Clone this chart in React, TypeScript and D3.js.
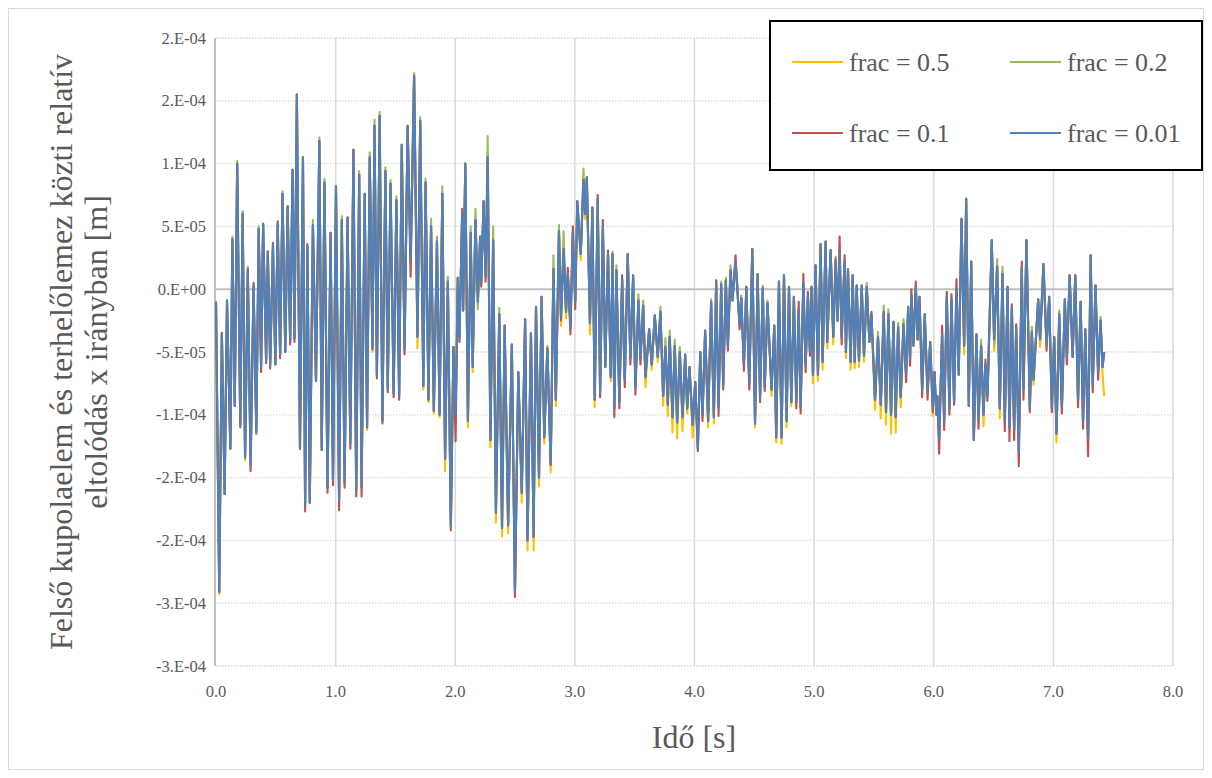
import React from 'react';
import * as d3 from 'd3';

// Displacement values below are stored in units of 1e-4 m.
const UNIT = 1e-4;

const X_TICKS = [0, 1, 2, 3, 4, 5, 6, 7, 8];
const X_TICK_LABELS = ['0.0', '1.0', '2.0', '3.0', '4.0', '5.0', '6.0', '7.0', '8.0'];
const Y_TICKS = [-3e-4, -2.5e-4, -2e-4, -1.5e-4, -1e-4, -5e-5, 0, 5e-5, 1e-4, 1.5e-4, 2e-4];
const Y_TICK_LABELS = ['-3.E-04', '-3.E-04', '-2.E-04', '-2.E-04', '-1.E-04', '-5.E-05', '0.E+00', '5.E-05', '1.E-04', '2.E-04', '2.E-04'];

// frac = 0.01 : [time s, displacement (1e-4 m)]
const FRAC_001: [number, number][] = [
  [0.000, -0.10], [0.027, -2.41], [0.049, -0.35], [0.072, -1.63], [0.092, -0.09], [0.120, -1.27], [0.137, 0.40], [0.157, -0.93],
  [0.177, 1.00], [0.203, -1.08], [0.223, 0.60], [0.243, -1.34], [0.266, 0.16], [0.289, -1.40], [0.314, 0.03], [0.337, -1.13],
  [0.357, 0.48], [0.377, -0.62], [0.394, 0.52], [0.419, -0.57], [0.433, 0.30], [0.453, -0.60], [0.476, 0.35], [0.496, -0.60],
  [0.516, 0.52], [0.536, -0.52], [0.556, 0.76], [0.579, -0.50], [0.599, 0.66], [0.620, -0.42], [0.640, 0.95], [0.656, -0.39],
  [0.676, 1.55], [0.702, -1.27], [0.727, 1.05], [0.745, -1.72], [0.764, 0.34], [0.784, -1.70], [0.810, 0.51], [0.836, -0.73],
  [0.864, 1.18], [0.884, -1.28], [0.907, 0.85], [0.932, -1.58], [0.958, 0.45], [0.978, -1.52], [1.003, 0.82], [1.029, -1.68],
  [1.052, 0.55], [1.075, -1.53], [1.100, 0.57], [1.123, -1.23], [1.149, 1.11], [1.172, -1.61], [1.197, 0.91], [1.217, -1.58],
  [1.243, 0.76], [1.263, -1.10], [1.285, 1.05], [1.308, -0.46], [1.325, 1.30], [1.345, -0.69], [1.368, 1.38], [1.391, -1.05],
  [1.416, 0.94], [1.436, -0.80], [1.459, 0.84], [1.485, -0.83], [1.508, 0.71], [1.531, -0.85], [1.553, 1.15], [1.576, -0.48],
  [1.602, 1.30], [1.627, 0.23], [1.656, 1.70], [1.684, -0.38], [1.707, 1.34], [1.733, -0.77], [1.752, 0.85], [1.776, -0.88],
  [1.798, 0.50], [1.821, -0.97], [1.847, 0.38], [1.869, -1.00], [1.892, 0.76], [1.915, -1.35], [1.938, 0.06], [1.963, -1.88],
  [1.985, -0.46], [2.003, -1.00], [2.021, 0.09], [2.035, -0.39], [2.058, 0.60], [2.066, -0.17], [2.084, 1.00], [2.106, -1.05],
  [2.129, 0.45], [2.146, -0.62], [2.169, 0.55], [2.189, -0.10], [2.208, 0.42], [2.217, 0.05], [2.237, 0.70], [2.254, 0.10],
  [2.271, 1.05], [2.294, -1.20], [2.317, 0.39], [2.340, -1.78], [2.368, -0.20], [2.391, -1.90], [2.413, -0.29], [2.442, -1.88],
  [2.473, -0.44], [2.499, -2.40], [2.527, -0.66], [2.556, -1.62], [2.584, -0.24], [2.604, -2.00], [2.633, -0.35], [2.655, -1.97],
  [2.675, -0.14], [2.700, -1.50], [2.722, -0.06], [2.744, -1.18], [2.770, -0.47], [2.798, -1.40], [2.821, 0.16], [2.841, -0.88],
  [2.867, 0.46], [2.884, -0.22], [2.906, 0.32], [2.926, -0.18], [2.941, 0.12], [2.963, -0.30], [2.983, 0.45], [3.003, -0.10],
  [3.020, 0.70], [3.049, 0.28], [3.072, 0.87], [3.086, 0.60], [3.100, 0.89], [3.126, -0.27], [3.146, 0.65], [3.166, -0.88],
  [3.191, 0.72], [3.211, -0.82], [3.234, 0.50], [3.254, -0.62], [3.277, 0.28], [3.300, -0.70], [3.315, 0.28], [3.330, -0.95],
  [3.347, 0.15], [3.372, -0.90], [3.395, 0.08], [3.417, -0.72], [3.442, 0.28], [3.464, -0.55], [3.487, 0.11], [3.506, -0.78],
  [3.531, -0.09], [3.548, -0.55], [3.571, -0.13], [3.590, -0.70], [3.621, -0.32], [3.643, -0.60], [3.668, -0.21], [3.693, -0.54],
  [3.715, -0.18], [3.738, -0.85], [3.757, -0.46], [3.777, -0.92], [3.793, -0.38], [3.816, -1.02], [3.835, -0.45], [3.855, -1.06],
  [3.877, -0.50], [3.900, -1.02], [3.922, -0.52], [3.939, -0.95], [3.958, -0.62], [3.985, -1.08], [4.006, -0.74], [4.028, -1.27],
  [4.048, -0.50], [4.067, -1.00], [4.089, -0.33], [4.114, -1.05], [4.139, -0.10], [4.162, -1.02], [4.181, 0.05], [4.201, -0.94],
  [4.223, 0.04], [4.240, -0.76], [4.262, 0.07], [4.279, -0.45], [4.301, 0.15], [4.318, -0.09], [4.343, 0.22], [4.377, -0.28],
  [4.391, -0.07], [4.413, -0.60], [4.433, 0.02], [4.458, -0.76], [4.483, 0.32], [4.506, -1.07], [4.528, 0.12], [4.548, -0.86],
  [4.571, 0.01], [4.587, -0.78], [4.610, -0.11], [4.644, -0.80], [4.667, -0.29], [4.683, -1.18], [4.706, 0.06], [4.728, -1.18],
  [4.748, 0.11], [4.770, -1.05], [4.790, 0.02], [4.809, -0.90], [4.831, -0.06], [4.851, -0.90], [4.871, -0.16], [4.887, -0.94],
  [4.910, 0.05], [4.929, -0.60], [4.948, -0.05], [4.965, -0.50], [4.978, 0.02], [4.990, -0.68], [5.012, 0.19], [5.032, -0.68],
  [5.054, 0.36], [5.071, -0.58], [5.096, 0.38], [5.110, -0.42], [5.138, 0.31], [5.160, -0.38], [5.180, 0.22], [5.196, -0.25],
  [5.213, 0.30], [5.230, -0.38], [5.255, 0.22], [5.266, -0.50], [5.283, 0.16], [5.305, -0.58], [5.322, 0.11], [5.339, -0.58],
  [5.356, 0.03], [5.375, -0.57], [5.398, 0.03], [5.417, -0.53], [5.440, 0.02], [5.462, -0.42], [5.479, -0.20], [5.509, -0.88],
  [5.534, -0.38], [5.557, -0.92], [5.582, -0.18], [5.601, -0.98], [5.621, -0.20], [5.643, -1.00], [5.663, -0.26], [5.682, -1.02],
  [5.702, -0.30], [5.724, -0.86], [5.747, -0.28], [5.769, -0.68], [5.786, -0.14], [5.802, -0.56], [5.813, -0.05], [5.830, -0.45],
  [5.850, 0.02], [5.866, -0.40], [5.881, -0.06], [5.903, -0.80], [5.925, -0.20], [5.948, -0.82], [5.970, -0.42], [5.992, -0.93],
  [6.006, -0.66], [6.022, -1.00], [6.030, -0.85], [6.045, -1.20], [6.070, -0.36], [6.087, -1.05], [6.109, -0.06], [6.131, -0.95],
  [6.148, -0.08], [6.170, -0.90], [6.190, 0.00], [6.209, -0.68], [6.232, 0.56], [6.254, -0.45], [6.271, 0.72], [6.293, -0.93],
  [6.313, 0.22], [6.335, -1.20], [6.357, -0.36], [6.374, -1.05], [6.396, -0.45], [6.416, -1.00], [6.432, -0.60], [6.449, -0.85],
  [6.485, 0.39], [6.505, -0.40], [6.530, 0.18], [6.552, -0.95], [6.575, 0.12], [6.594, -1.05], [6.617, 0.02], [6.633, -1.10],
  [6.653, -0.14], [6.672, -1.12], [6.689, -0.30], [6.711, -1.30], [6.736, 0.18], [6.750, -0.80], [6.775, 0.39], [6.803, -0.95],
  [6.820, -0.34], [6.834, -0.72], [6.873, -0.08], [6.889, -0.40], [6.917, 0.20], [6.943, -0.44], [6.965, -0.06], [6.987, -0.95],
  [7.007, -0.38], [7.026, -1.15], [7.049, -0.20], [7.071, -0.94], [7.096, -0.08], [7.113, -0.55], [7.136, 0.11], [7.161, -0.54],
  [7.183, 0.11], [7.206, -0.88], [7.228, -0.10], [7.248, -1.05], [7.267, -0.32], [7.290, -1.20], [7.312, 0.27], [7.329, -0.76],
  [7.352, 0.03], [7.374, -0.66], [7.394, -0.25], [7.411, -0.62], [7.425, -0.50],
];

// Where the coarser runs leave the frac = 0.01 curve: [time s, displacement (1e-4 m)]
const FRAC_05_TIPS: [number, number][] = [
  [0.027, -2.43], [0.243, -1.36], [1.075, -1.56], [1.263, -1.12], [1.308, -0.50], [1.684, -0.47], [1.733, -0.80], [1.776, -0.90],
  [1.821, -0.99], [1.869, -1.02], [1.915, -1.45], [2.106, -1.10], [2.146, -0.66], [2.294, -1.26], [2.340, -1.86], [2.391, -1.97],
  [2.442, -1.94], [2.556, -1.70], [2.604, -2.08], [2.655, -2.08], [2.700, -1.57], [2.744, -1.23], [2.798, -1.46], [2.841, -0.93],
  [2.884, -0.29], [2.926, -0.23], [3.049, 0.23], [3.086, 0.56], [3.126, -0.36], [3.166, -0.94], [3.300, -0.73], [3.590, -0.78],
  [3.643, -0.64], [3.693, -0.58], [3.738, -0.93], [3.777, -1.01], [3.816, -1.14], [3.855, -1.19], [3.900, -1.13], [3.939, -0.99],
  [3.985, -1.18], [4.114, -1.10], [4.162, -1.07], [4.506, -1.10], [4.644, -0.85], [4.683, -1.22], [4.728, -1.23], [4.770, -1.10],
  [4.809, -0.93], [4.990, -0.75], [5.032, -0.73], [5.071, -0.64], [5.110, -0.47], [5.160, -0.44], [5.266, -0.55], [5.305, -0.64],
  [5.339, -0.63], [5.375, -0.62], [5.417, -0.58], [5.509, -0.96], [5.557, -1.03], [5.601, -1.08], [5.643, -1.15], [5.682, -1.14],
  [5.724, -0.94], [5.992, -1.01], [6.254, -0.52], [6.416, -1.09], [6.505, -0.49], [6.552, -1.03], [6.834, -0.76], [6.889, -0.46],
  [7.026, -1.22], [7.411, -0.68], [7.425, -0.85],
];

const FRAC_02_TIPS: [number, number][] = [
  [0.137, 0.42], [0.177, 1.02], [0.223, 0.62], [0.266, 0.18], [0.357, 0.50], [0.556, 0.78], [0.810, 0.55], [0.864, 1.21],
  [0.907, 0.88], [1.052, 0.58], [1.197, 0.94], [1.285, 1.09], [1.325, 1.35], [1.368, 1.41], [1.416, 0.97], [1.459, 0.87],
  [1.508, 0.74], [1.656, 1.72], [1.707, 1.37], [1.752, 0.88], [1.798, 0.56], [1.847, 0.42], [1.892, 0.82], [1.938, 0.10],
  [2.129, 0.50], [2.169, 0.64], [2.189, -0.16], [2.271, 1.22], [2.317, 0.50], [2.368, -0.15], [2.770, -0.45], [2.821, 0.27],
  [2.867, 0.51], [2.906, 0.46], [3.072, 0.96], [3.315, 0.30], [3.347, 0.19], [3.531, -0.04], [3.571, -0.09], [3.715, -0.14],
  [3.757, -0.39], [3.793, -0.33], [3.835, -0.40], [3.877, -0.46], [4.139, -0.08], [4.181, 0.07], [4.223, 0.06], [4.262, 0.09],
  [4.301, 0.19], [4.391, -0.05], [4.571, 0.03], [4.610, -0.09], [5.180, 0.26], [5.440, 0.05], [5.534, -0.34], [5.582, -0.13],
  [5.621, -0.16], [5.702, -0.27], [5.747, -0.24], [6.396, -0.40], [6.505, -0.45], [6.530, 0.24], [6.575, 0.18], [6.820, -0.30],
  [7.049, -0.17], [7.394, -0.22],
];

const FRAC_01_TIPS: [number, number][] = [
  [0.203, -1.10], [0.289, -1.45], [0.314, 0.05], [0.337, -1.15], [0.377, -0.66], [0.419, -0.59], [0.453, -0.63], [0.476, 0.37],
  [0.516, 0.54], [0.536, -0.55], [0.620, -0.44], [0.656, -0.42], [0.745, -1.77], [0.764, 0.36], [0.932, -1.62], [0.978, -1.56],
  [1.029, -1.76], [1.075, -1.58], [1.123, -1.27], [1.172, -1.65], [1.217, -1.65], [1.308, -0.48], [1.345, -0.71], [1.391, -1.07],
  [1.436, -0.82], [1.485, -0.86], [1.531, -0.88], [1.576, -0.52], [1.627, 0.10], [1.963, -1.92], [2.003, -1.21], [2.035, -0.42],
  [2.058, 0.64], [2.217, 0.02], [2.254, 0.06], [2.499, -2.45], [2.884, -0.25], [2.941, 0.17], [2.963, -0.36], [2.983, 0.50],
  [3.003, -0.16], [3.191, 0.75], [3.211, -0.86], [3.234, 0.55], [3.277, 0.31], [3.330, -1.02], [3.372, -0.95], [3.395, 0.11],
  [3.417, -0.78], [3.464, -0.60], [3.506, -0.84], [3.548, -0.60], [4.028, -1.29], [4.067, -1.05], [4.181, 0.07], [4.201, -1.01],
  [4.240, -0.80], [4.279, -0.49], [4.343, 0.27], [4.377, -0.32], [4.413, -0.65], [4.458, -0.80], [4.548, -0.90], [4.587, -0.81],
  [4.851, -0.95], [4.871, -0.10], [4.887, -0.99], [4.910, 0.12], [4.929, -0.66], [4.948, -0.02], [4.965, -0.53], [5.180, 0.24],
  [5.213, 0.42], [5.230, -0.44], [5.255, 0.27], [5.479, -0.18], [5.769, -0.74], [5.802, -0.61], [5.813, 0.00], [5.850, 0.06],
  [5.903, -0.86], [5.948, -0.88], [5.992, -0.98], [6.045, -1.31], [6.070, -0.29], [6.087, -1.12], [6.109, -0.02], [6.131, -1.00],
  [6.148, -0.04], [6.170, -0.92], [6.190, 0.08], [6.374, -1.11], [6.432, -0.56], [6.449, -0.89], [6.594, -1.13], [6.633, -1.21],
  [6.653, -0.12], [6.672, -1.20], [6.689, -0.28], [6.711, -1.41], [6.736, 0.22], [6.750, -0.88], [6.803, -0.98], [6.943, -0.49],
  [6.987, -0.98], [7.071, -0.99], [7.113, -0.60], [7.206, -0.94], [7.248, -1.11], [7.290, -1.33], [7.329, -0.82], [7.374, -0.72],
];

const SERIES_NAMES = ['frac = 0.5', 'frac = 0.2', 'frac = 0.1', 'frac = 0.01'];
const SERIES_COLORS = ['#FFC000', '#9BBB59', '#C0504D', '#4F81BD'];

function applyTips(base: [number, number][], tips: [number, number][]): [number, number][] {
  const byTime = new Map(tips.map(([t, v]) => [t.toFixed(3), v]));
  return base.map(([t, v]) => [t, byTime.has(t.toFixed(3)) ? (byTime.get(t.toFixed(3)) as number) : v]);
}

const FONT = '"Liberation Serif", "DejaVu Serif", serif';
const TEXT = '#595959';
const textStyle = { fontFamily: FONT };

export default function App() {
  const W = 1212;
  const H = 778;
  const plot = { left: 216, right: 1173, top: 38, bottom: 666 };

  const x = d3.scaleLinear().domain([0, 8]).range([plot.left, plot.right]);
  const y = d3.scaleLinear().domain([-3e-4, 2e-4]).range([plot.bottom, plot.top]);

  const line = d3
    .line<[number, number]>()
    .x((d) => x(d[0]))
    .y((d) => y(d[1] * UNIT));

  const series = [
    applyTips(FRAC_001, FRAC_05_TIPS),
    applyTips(FRAC_001, FRAC_02_TIPS),
    applyTips(FRAC_001, FRAC_01_TIPS),
    FRAC_001,
  ];

  const legendItems = [
    { i: 0, lx: 792, ty: 62 },
    { i: 1, lx: 1010, ty: 62 },
    { i: 2, lx: 792, ty: 133 },
    { i: 3, lx: 1010, ty: 133 },
  ];

  return (
    <svg width={W} height={H} style={{ position: 'absolute', left: 0, top: 0, background: '#fff' }}>
      <rect x={0} y={0} width={W} height={H} fill="#fff" />
      <rect x={8.5} y={8.5} width={1195} height={761} fill="#fff" stroke="#D9D9D9" strokeWidth={1} />

      {/* horizontal gridlines */}
      {Y_TICKS.filter((v) => Math.abs(v) > 1e-12).map((v, k) => (
        <line
          key={'hg' + k}
          x1={plot.left}
          x2={plot.right}
          y1={y(v)}
          y2={y(v)}
          stroke="#D9D9D9"
          strokeWidth={1.3}
          strokeDasharray="1.5 1.5"
        />
      ))}
      {/* vertical gridlines */}
      {X_TICKS.filter((v) => v > 0).map((v) => (
        <line key={'vg' + v} x1={x(v)} x2={x(v)} y1={plot.top} y2={plot.bottom} stroke="#D9D9D9" strokeWidth={1.5} />
      ))}
      {/* axis lines */}
      <line x1={plot.left} x2={plot.right} y1={y(0)} y2={y(0)} stroke="#BFBFBF" strokeWidth={2} />
      <line x1={plot.left - 1} x2={plot.left - 1} y1={plot.top} y2={plot.bottom} stroke="#BFBFBF" strokeWidth={2} />

      {/* series */}
      {series.map((d, i) => (
        <path
          key={'s' + i}
          d={line(d) || ''}
          fill="none"
          stroke={SERIES_COLORS[i]}
          strokeWidth={2.1}
          strokeLinejoin="round"
        />
      ))}

      {/* y tick labels */}
      {Y_TICKS.map((v, k) => (
        <text
          key={'yt' + k}
          x={206}
          y={y(v)}
          textAnchor="end"
          dominantBaseline="central"
          fontSize={16.5}
          fill={TEXT}
          style={textStyle}
        >
          {Y_TICK_LABELS[k]}
        </text>
      ))}
      {/* x tick labels */}
      {X_TICKS.map((v, k) => (
        <text
          key={'xt' + k}
          x={x(v)}
          y={691}
          textAnchor="middle"
          dominantBaseline="central"
          fontSize={16.5}
          fill={TEXT}
          style={textStyle}
        >
          {X_TICK_LABELS[k]}
        </text>
      ))}

      {/* axis titles */}
      <text x={694} y={737} textAnchor="middle" dominantBaseline="central" fontSize={32} fill={TEXT} style={textStyle}>
        Idő [s]
      </text>
      <g transform={`translate(0, ${(plot.top + plot.bottom) / 2}) rotate(-90)`}>
        <text x={0} y={61} textAnchor="middle" dominantBaseline="central" fontSize={32} fill={TEXT} style={textStyle}>
          Felső kupolaelem és terhelőlemez közti relatív
        </text>
        <text x={0} y={96} textAnchor="middle" dominantBaseline="central" fontSize={32} fill={TEXT} style={textStyle}>
          eltolódás x irányban [m]
        </text>
      </g>

      {/* legend */}
      <rect x={770} y={21} width={432} height={149} fill="#fff" stroke="#000" strokeWidth={2} />
      {legendItems.map(({ i, lx, ty }) => (
        <g key={'lg' + i}>
          <line x1={lx} x2={lx + 51} y1={ty} y2={ty} stroke={SERIES_COLORS[i]} strokeWidth={2} />
          <text x={lx + 57} y={ty} dominantBaseline="central" fontSize={26} fill={TEXT} style={textStyle}>
            {SERIES_NAMES[i]}
          </text>
        </g>
      ))}
    </svg>
  );
}
